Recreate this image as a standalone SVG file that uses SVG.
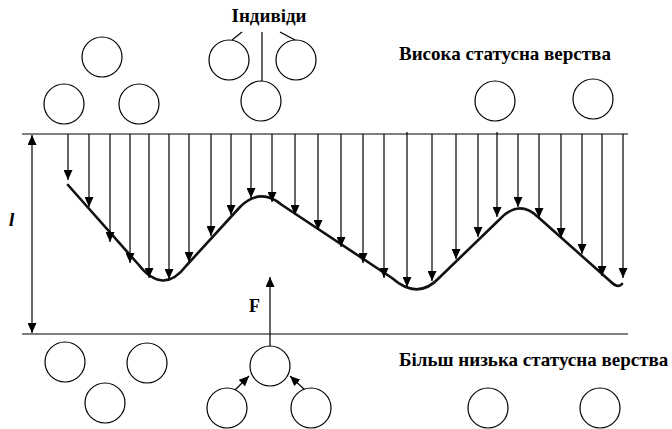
<svg xmlns="http://www.w3.org/2000/svg" width="672" height="429" viewBox="0 0 672 429">
<defs>
<style>
.c{fill:#fff;stroke:#000;stroke-width:1.2}
.ln{stroke:#000;stroke-width:1.2;fill:none}
.hl{stroke:#555;stroke-width:1.4;fill:none}
.t{font-family:'Liberation Serif','Times New Roman',serif;font-weight:bold;fill:#000;font-size:19px}
.dn{stroke:#000;stroke-width:1.2;marker-end:url(#ah)}
</style>
<marker id="ah" viewBox="0 0 10 9" refX="10" refY="4.5" markerWidth="10" markerHeight="9" markerUnits="userSpaceOnUse" orient="auto"><path d="M0,0 L10,4.5 L0,9z" fill="#000"/></marker>
</defs>
<rect width="672" height="429" fill="#fff"/>
<g id="layers">
<line class="hl" x1="22" y1="134" x2="628" y2="134"/>
<line class="hl" x1="22" y1="334" x2="628" y2="334"/>
</g>
<g id="curve">
<path d="M68,185 L138,264 Q163,296 186,266 L240,207 Q260,187 282,205 L392,278 Q418,301 440,277 L500,219 Q519,199 538,217 L610,281 Q618,289 622,284" fill="none" stroke="#111" stroke-width="2.6" stroke-linejoin="round" stroke-linecap="round"/>
</g>
<g id="connectors">
<line class="dn" x1="68" y1="134" x2="68" y2="180"/>
<line class="dn" x1="89" y1="134" x2="89" y2="207"/>
<line class="dn" x1="110" y1="134" x2="110" y2="242"/>
<line class="dn" x1="130" y1="134" x2="130" y2="263"/>
<line class="dn" x1="149" y1="134" x2="149" y2="278"/>
<line class="dn" x1="169" y1="134" x2="169" y2="279"/>
<line class="dn" x1="189" y1="134" x2="189" y2="262"/>
<line class="dn" x1="211" y1="134" x2="211" y2="236"/>
<line class="dn" x1="231" y1="134" x2="231" y2="215"/>
<line class="dn" x1="251" y1="134" x2="251" y2="198"/>
<line class="dn" x1="272" y1="134" x2="272" y2="202"/>
<line class="dn" x1="295" y1="134" x2="295" y2="215"/>
<line class="dn" x1="318" y1="134" x2="318" y2="230"/>
<line class="dn" x1="341" y1="134" x2="341" y2="247"/>
<line class="dn" x1="363" y1="134" x2="363" y2="263"/>
<line class="dn" x1="384" y1="134" x2="384" y2="278"/>
<line class="dn" x1="407" y1="132" x2="407" y2="287"/>
<line class="dn" x1="432" y1="134" x2="432" y2="281"/>
<line class="dn" x1="456" y1="134" x2="456" y2="259"/>
<line class="dn" x1="478" y1="134" x2="478" y2="237"/>
<line class="dn" x1="497" y1="132" x2="497" y2="217"/>
<line class="dn" x1="518" y1="134" x2="518" y2="207"/>
<line class="dn" x1="539" y1="134" x2="539" y2="218"/>
<line class="dn" x1="561" y1="134" x2="561" y2="238"/>
<line class="dn" x1="582" y1="134" x2="582" y2="254"/>
<line class="dn" x1="602" y1="134" x2="602" y2="276"/>
<line class="dn" x1="623" y1="134" x2="623" y2="278"/>
<line class="ln" x1="32" y1="225" x2="32" y2="135" marker-end="url(#ah)"/>
<line class="ln" x1="32" y1="225" x2="32" y2="333" marker-end="url(#ah)"/>
<line class="ln" x1="270" y1="346" x2="270" y2="277" marker-end="url(#ah)"/>
<line class="ln" x1="235" y1="390" x2="249" y2="376" marker-end="url(#ah)"/>
<line class="ln" x1="305" y1="390" x2="290" y2="376" marker-end="url(#ah)"/>
<line class="ln" x1="242" y1="32" x2="232" y2="40"/>
<line class="ln" x1="262" y1="32" x2="262" y2="81"/>
<line class="ln" x1="280" y1="32" x2="295" y2="40"/>
</g>
<g id="top-individuals">
<circle class="c" cx="102" cy="57" r="20"/>
<circle class="c" cx="64" cy="104" r="20"/>
<circle class="c" cx="139" cy="104" r="20"/>
<circle class="c" cx="229" cy="60" r="20"/>
<circle class="c" cx="296" cy="60" r="20"/>
<circle class="c" cx="261" cy="101" r="20"/>
<circle class="c" cx="495" cy="101" r="20"/>
<circle class="c" cx="593" cy="99" r="20"/>
</g>
<g id="bottom-individuals">
<circle class="c" cx="65" cy="362" r="20"/>
<circle class="c" cx="147" cy="363" r="20"/>
<circle class="c" cx="105" cy="403" r="20"/>
<circle class="c" cx="270" cy="366" r="20"/>
<circle class="c" cx="227" cy="408" r="20"/>
<circle class="c" cx="311" cy="408" r="20"/>
<circle class="c" cx="488" cy="408" r="20"/>
<circle class="c" cx="600" cy="408" r="20"/>
</g>
<g id="labels">
<text class="t" x="269" y="22" text-anchor="middle">Індивіди</text>
<text class="t" x="399" y="60">Висока статусна верства</text>
<text class="t" x="399" y="366">Більш низька статусна верства</text>
<text class="t" x="249" y="312" style="font-size:18px">F</text>
<text class="t" x="9" y="226" style="font-size:19px;font-style:italic">l</text>
</g>
</svg>
